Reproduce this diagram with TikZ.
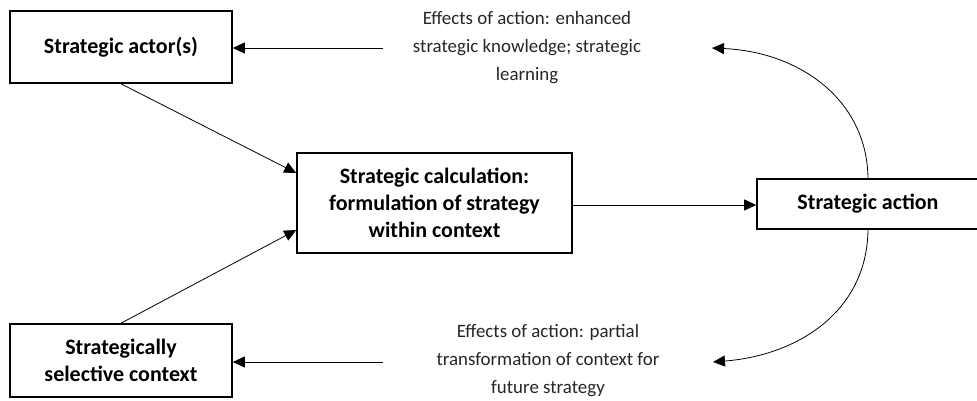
\documentclass[tikz,border=0pt]{standalone}
\usepackage{fontspec}
\setmainfont{Carlito}
\usetikzlibrary{arrows.meta,calc}

\begin{document}
\begin{tikzpicture}[x=1pt,y=-1pt,
  box/.style={draw,line width=1.6pt,align=center,inner sep=0pt,
    font=\bfseries\fontsize{22}{27}\selectfont},
  note/.style={align=center,inner sep=0pt,text=black!85,
    font=\fontsize{18.9}{28}\selectfont},
  link/.style={line width=0.8pt,-{Triangle[length=12pt,width=11pt]}}]
  \useasboundingbox (0,0) rectangle (977,400);
  \begin{scope}
  \clip (0,0) rectangle (977,400);

  % boxes
  \node[box,minimum width=222pt,minimum height=72pt] (actor) at (121,47) {Strategic actor(s)};
  \node[box,minimum width=222pt,minimum height=73pt] (ctx) at (121,360.5) {Strategically\\selective context};
  \node[box,minimum width=275pt,minimum height=100pt] (calc) at (434.5,203) {Strategic calculation:\\formulation of strategy\\within context};
  \node[box,minimum width=222pt,minimum height=50pt] (act) at (868,204) {Strategic action};

  % feedback labels
  \node[note] (fx1) at (527,48) {Effects of action: enhanced\\strategic knowledge; strategic\\learning};
  \node[note] (fx2) at (548,361) {Effects of action: partial\\transformation of context for\\future strategy};

  % free ends of the feedback connectors
  \coordinate (t1) at (383,48);
  \coordinate (t2) at (383,362);
  \coordinate (h1) at (712,48);
  \coordinate (h2) at (713,362);

  % connectors
  \draw[link] (actor.south) -- ([yshift=30pt]calc.west);
  \draw[link] (ctx.north) -- ([yshift=-27pt]calc.west);
  \draw[link] ([yshift=-2pt]calc.east) -- ([yshift=-2pt]calc.east -| act.west);
  \draw[link] (act.north) .. controls (867,100) and (800,52) .. (h1);
  \draw[link] (act.south) .. controls (867,310) and (800,355) .. (h2);
  \draw[link] (t1) -- (t1 -| actor.east);
  \draw[link] (t2) -- (t2 -| ctx.east);
  \end{scope}
\end{tikzpicture}
\end{document}
